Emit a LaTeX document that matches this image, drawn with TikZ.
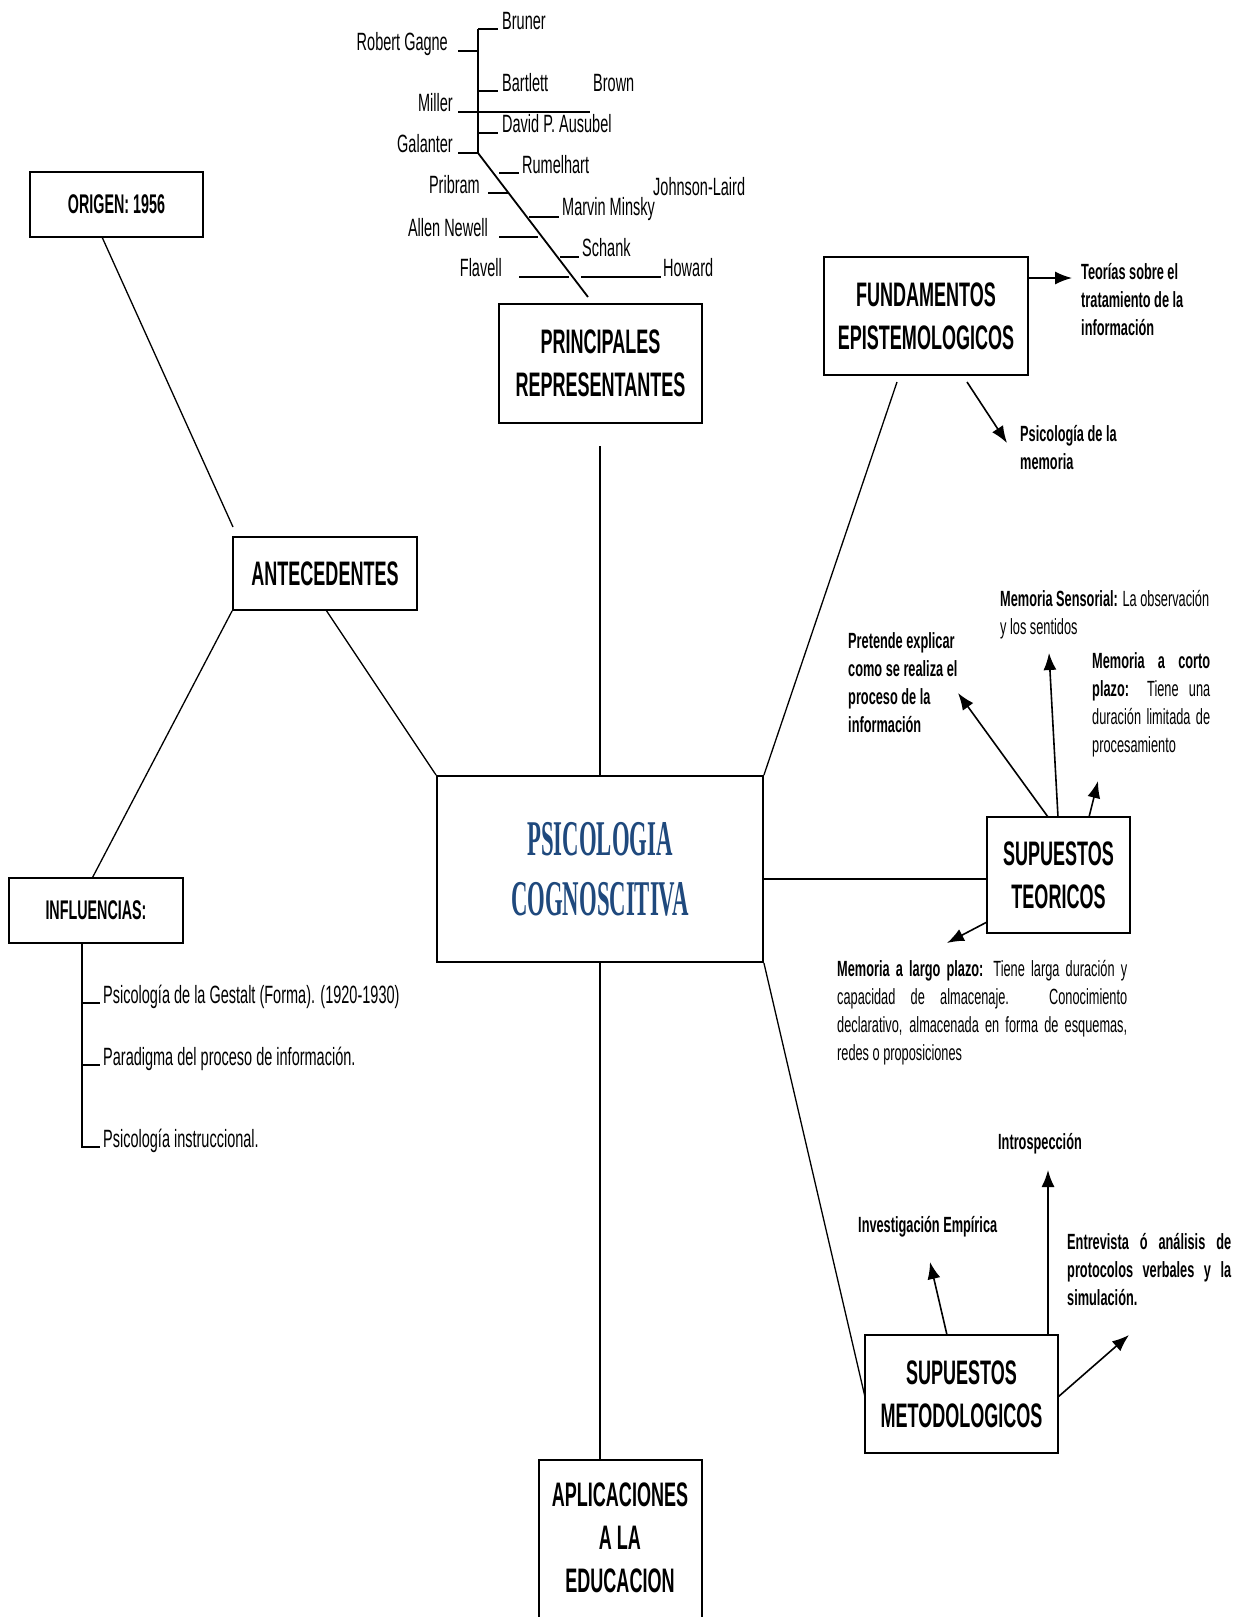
\documentclass[tikz,border=0pt]{standalone}
\usepackage{fontspec}
\setmainfont{Liberation Sans}[FakeStretch=0.58]
\newfontfamily\boxfont{Liberation Sans}[FakeStretch=0.53]
\newfontfamily\titlefont{Liberation Serif}[FakeStretch=0.455]
\usetikzlibrary{arrows.meta,calc}
\definecolor{titleblue}{RGB}{31,73,125}
\newcommand{\jline}[1]{\makebox[\linewidth][s]{#1}}
\tikzset{
  boxnode/.style={draw, line width=1.8pt, inner sep=0pt, align=center,
    font=\boxfont\bfseries\fontsize{34}{43}\selectfont},
  smallbox/.style={draw, line width=1.8pt, inner sep=0pt, align=center,
    font=\boxfont\bfseries\fontsize{27}{32}\selectfont},
  boxlabel/.style={inner sep=0pt, align=center,
    font=\boxfont\bfseries\fontsize{34}{43}\selectfont},
  conn/.style={line width=1.3pt},
  arr/.style={line width=1.6pt, -{Latex[length=17pt,width=13pt]}},
  tree/.style={line width=1.8pt},
  pname/.style={inner sep=0pt, font=\fontsize{25}{30}\selectfont},
  note/.style={inner sep=0pt, anchor=base west, font=\fontsize{22}{28}\selectfont},
  infl/.style={inner sep=0pt, anchor=base west, font=\fontsize{25}{30}\selectfont},
}
\begin{document}
\begin{tikzpicture}[x=1pt,y=-1pt]
\useasboundingbox (0,0) rectangle (1243,1617);
\fill[white] (0,0) rectangle (1243,1617);
\clip (0,0) rectangle (1243,1617);

% ---------- main boxes ----------
\node[draw, line width=1.8pt, minimum width=326pt, minimum height=186pt, inner sep=0pt,
      align=center, text=titleblue,
      font=\titlefont\bfseries\fontsize{50}{60}\selectfont] (center) at (600,869)
      {PSICOLOGIA\\COGNOSCITIVA};
\node[smallbox, minimum width=173pt, minimum height=65pt] (origen) at (116.5,204.5) {ORIGEN: 1956};
\node[boxnode, minimum width=184pt, minimum height=73pt] (antec) at (325,573.5) {ANTECEDENTES};
\node[smallbox, minimum width=174pt, minimum height=65pt] (influ) at (96,910.5) {INFLUENCIAS:};
\node[boxnode, minimum width=203pt, minimum height=119pt] (princ) at (600.5,363.5) {PRINCIPALES\\REPRESENTANTES};
\node[boxnode, minimum width=204pt, minimum height=118pt] (fund) at (926,316) {FUNDAMENTOS\\EPISTEMOLOGICOS};
\node[boxnode, minimum width=143pt, minimum height=116pt] (teor) at (1058.5,875) {SUPUESTOS\\TEORICOS};
\node[boxnode, minimum width=193pt, minimum height=118pt] (metod) at (961.5,1394) {SUPUESTOS\\METODOLOGICOS};
\node[draw, line width=1.8pt, minimum width=163pt, minimum height=220pt, inner sep=0pt, anchor=north] (aplic) at (620.5,1459) {};
\node[boxlabel] (aplictext) at (620,1538) {APLICACIONES\\A LA\\EDUCACION};

% ---------- connectors ----------
\coordinate (origenfoot) at (102,237);
\coordinate (antectop) at (233,527);
\draw[conn] (origenfoot) -- (antectop);
\coordinate (influtop) at (92,878.5);
\draw[conn] (antec.south west) -- (influtop);
\coordinate (antecfoot) at (326,610);
\draw[conn] (antecfoot) -- (center.north west);
\coordinate (princfoot) at (600,446);
\draw[conn] (center.north) -- (princfoot);
\coordinate (fundfoot) at (897,382);
\draw[conn] (center.north east) -- (fundfoot);
\coordinate (teorleft) at (987,879);
\draw[conn] (center.east |- teorleft) -- (teorleft);
\coordinate (metodleft) at (865,1397);
\draw[conn] (center.south east) -- (metodleft);
\draw[conn] (center.south) -- (center.south |- aplic.north);

% ---------- representantes tree ----------
\coordinate (tA) at (478,29);
\coordinate (tB) at (478,153);
\coordinate (tC) at (588,297);
\draw[tree] (tA) -- (tB) -- (tC);
\draw[tree] (tA) -- (498,29);
\draw[tree] (458,51) -- (478,51);
\draw[tree] (478,91) -- (498,91);
\draw[tree] (458,112) -- (590,112);
\draw[tree] (478,133) -- (498,133);
\draw[tree] (458,153) -- (tB);
\draw[tree] (499,173) -- (519,173);
\draw[tree] (488,193) -- (508,193);
\draw[tree] (529,217) -- (559,217);
\draw[tree] (499,237) -- (538,237);
\draw[tree] (560,257) -- (579,257);
\draw[tree] (519,277) -- (569,277);
\draw[tree] (581,277) -- (661,277);

\node[pname, anchor=base west] (bruner) at (502,29) {Bruner};
\node[pname, anchor=base east] (gagne) at (448,50) {Robert Gagne};
\node[pname, anchor=base west] (bartlett) at (502,91) {Bartlett};
\node[pname, anchor=base west] (brown) at (593,91) {Brown};
\node[pname, anchor=base east] (miller) at (453,111) {Miller};
\node[pname, anchor=base west] (ausubel) at (502,132) {David P. Ausubel};
\node[pname, anchor=base east] (galanter) at (453,152) {Galanter};
\node[pname, anchor=base west] (rumelhart) at (522,173) {Rumelhart};
\node[pname, anchor=base east] (pribram) at (480,193) {Pribram};
\node[pname, anchor=base west] (johnson) at (653,195) {Johnson-Laird};
\node[pname, anchor=base west] (minsky) at (562,215) {Marvin Minsky};
\node[pname, anchor=base east] (newell) at (488,236) {Allen Newell};
\node[pname, anchor=base west] (schank) at (582,256) {Schank};
\node[pname, anchor=base east] (flavell) at (502,276) {Flavell};
\node[pname, anchor=base west] (howard) at (663,276) {Howard};

% ---------- influencias ----------
\coordinate (iv0) at (82,943);
\coordinate (iv1) at (82,1003);
\coordinate (iv2) at (82,1065);
\coordinate (iv3) at (82,1147);
\draw[tree] (iv0) -- (iv3) -- ++(18,0);
\draw[tree] (iv1) -- ++(18,0);
\draw[tree] (iv2) -- ++(18,0);
\node[infl] (gestalt) at (103,1003) {Psicología de la Gestalt (Forma). (1920-1930)};
\node[infl] (paradigma) at (103,1065) {Paradigma del proceso de información.};
\node[infl] (instruc) at (103,1147) {Psicología instruccional.};

% ---------- fundamentos ----------
\node[note] (teorias) at (1081,279) {\bfseries\parbox[t]{130pt}{Teorías sobre el\\tratamiento de la\\información}};
\node[note] (psimem) at (1020,441) {\bfseries\parbox[t]{120pt}{Psicología de la\\memoria}};
\coordinate (fa1) at (1072,278);
\draw[arr] (fund.east |- fa1) -- (fa1);
\coordinate (fb0) at (967,382);
\coordinate (fb1) at (1007,443);
\draw[arr] (fb0) -- (fb1);

% ---------- supuestos teoricos ----------
\node[note] (pretende) at (848,648) {\bfseries\parbox[t]{130pt}{Pretende explicar\\como se realiza el\\proceso de la\\información}};
\node[note] (sensorial) at (1000,606) {\parbox[t]{210pt}{{\bfseries Memoria Sensorial:} La observación\\y los sentidos}};
\node[note] (corto) at (1092,668) {\parbox[t]{118pt}{\jline{\bfseries Memoria a corto}\\
  \jline{{\bfseries plazo:} Tiene una}\\
  \jline{duración limitada de}\\
  procesamiento}};
\node[note] (largo) at (837,976) {\parbox[t]{290pt}{\jline{{\bfseries Memoria a largo plazo:} Tiene larga duración y}\\
  \jline{capacidad de almacenaje. Conocimiento}\\
  \jline{declarativo, almacenada en forma de esquemas,}\\
  redes o proposiciones}};
\coordinate (ta0) at (1048,817);
\coordinate (ta1) at (958,693);
\draw[arr] (ta0) -- (ta1);
\coordinate (tb0) at (1058,817);
\coordinate (tb1) at (1049,653);
\draw[arr] (tb0) -- (tb1);
\coordinate (tc0) at (1089,817);
\coordinate (tc1) at (1098,781);
\draw[arr] (tc0) -- (tc1);
\coordinate (td0) at (987,922);
\coordinate (td1) at (947,943);
\draw[arr] (td0) -- (td1);

% ---------- supuestos metodologicos ----------
\node[note, anchor=base] (intro) at (1040,1149) {\bfseries Introspección};
\node[note] (invest) at (858,1232) {\bfseries Investigación Empírica};
\node[note] (entrev) at (1067,1249) {\bfseries\parbox[t]{164pt}{\jline{Entrevista ó análisis de}\\
  \jline{protocolos verbales y la}\\
  simulación.}};
\coordinate (ma0) at (947,1335);
\coordinate (ma1) at (930,1262);
\draw[arr] (ma0) -- (ma1);
\coordinate (mb0) at (1048,1335);
\coordinate (mb1) at (1048,1170);
\draw[arr] (mb0) -- (mb1);
\coordinate (mc0) at (1058,1397);
\coordinate (mc1) at (1129,1335);
\draw[arr] (mc0) -- (mc1);
\end{tikzpicture}
\end{document}
